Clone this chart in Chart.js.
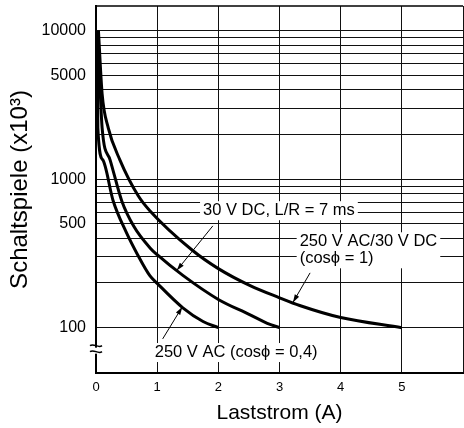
<!DOCTYPE html>
<html>
<head>
<meta charset="utf-8">
<script src="https://cdn.jsdelivr.net/npm/chart.js@4/dist/chart.umd.min.js"></script>
<style>
  html, body { margin: 0; padding: 0; background: #fff; }
  #wrap { width: 464px; height: 428px; }
</style>
</head>
<body>
<div id="wrap"><canvas id="chart"></canvas></div>
<script>
// Schaltspiele (x10^3) vs Laststrom (A)
const acInductiveX = [0.02, 0.03, 0.11, 0.28, 0.49, 0.68, 0.88, 1.0, 1.42, 1.75, 2.0];
const acInductiveY = [10000, 2222, 1352, 717, 443, 310, 224, 199, 136, 110, 100];

const dcInductiveX = [0.03, 0.1, 0.23, 0.42, 0.62, 0.88, 1.0, 1.42, 2.0, 2.52, 2.8, 3.0];
const dcInductiveY = [10000, 2222, 1352, 717, 480, 346, 310, 225, 155, 122, 107, 100];

const resistiveX = [0.04, 0.1, 0.2, 0.39, 0.69, 0.88, 1.58, 2.0, 2.52, 3.0, 3.33, 4.0, 5.0];
const resistiveY = [10000, 3767, 2222, 1352, 774, 614, 331, 250, 192, 159, 141, 117, 100];

const gridValues = [100, 200, 300, 400, 500, 600, 700, 800, 900,
                    1000, 2000, 3000, 4000, 5000, 6000, 7000, 8000, 9000, 10000];
const tickLabels = [100, 500, 1000, 5000, 10000];
const xTicks = [0, 1, 2, 3, 4, 5, 6];
const xTickLabels = ['0', '1', '2', '3', '4', '5', ''];

// labels with arrows, [x, y] in data units
const notes = [
  { lines: ['30 V DC, L/R = 7 ms'], at: [1.75, 614], from: [1.91, 485], to: [1.32, 243] },
  { lines: ['250 V AC/30 V DC', '(cos\u03D5 = 1)'], at: [3.33, 379], from: [3.50, 234], to: [3.22, 148] },
  { lines: ['250 V AC (cos\u03D5 = 0,4)'], at: [0.96, 68], from: [1.09, 84], to: [1.41, 138] }
];

const toPoints = (xs, ys) => xs.map((x, i) => ({ x: x, y: ys[i] }));

const curveStyle = {
  borderColor: '#000',
  borderWidth: 3,
  pointRadius: 0,
  fill: false,
  cubicInterpolationMode: 'monotone'
};

const annotatePlugin = {
  id: 'annotate',
  afterDraw(chart) {
    const ctx = chart.ctx;
    const xs = chart.scales.x;
    const ys = chart.scales.y;
    const area = chart.chartArea;

    // frame on top
    ctx.save();
    ctx.strokeStyle = '#000';
    ctx.lineWidth = 1.5;
    ctx.beginPath();
    ctx.moveTo(area.left, area.top);
    ctx.lineTo(area.right, area.top);
    ctx.stroke();

    // axis break mark
    const by = ys.getPixelForValue(70);
    const bx = area.left;
    ctx.fillStyle = '#fff';
    ctx.fillRect(bx - 3, by - 3, 6, 6);
    ctx.lineWidth = 1.5;
    ctx.beginPath();
    ctx.moveTo(bx - 6, by - 5);
    ctx.bezierCurveTo(bx - 2, by - 8, bx + 2, by - 2, bx + 6, by - 5);
    ctx.moveTo(bx - 6, by + 1);
    ctx.bezierCurveTo(bx - 2, by - 2, bx + 2, by + 4, bx + 6, by + 1);
    ctx.stroke();

    ctx.font = '16.5px "Liberation Sans", Arial, sans-serif';
    ctx.textBaseline = 'middle';
    ctx.textAlign = 'left';
    notes.forEach(n => {
      const px = xs.getPixelForValue(n.at[0]);
      const py = ys.getPixelForValue(n.at[1]);
      const lh = 17;
      const w = Math.max(...n.lines.map(l => ctx.measureText(l).width));
      ctx.fillStyle = '#fff';
      ctx.fillRect(px - 3, py - lh / 2 - 1, w + 6, lh * n.lines.length + 2);
      ctx.fillStyle = '#000';
      n.lines.forEach((l, i) => ctx.fillText(l, px, py + i * lh));

      // arrow
      const x1 = xs.getPixelForValue(n.from[0]);
      const y1 = ys.getPixelForValue(n.from[1]);
      const x2 = xs.getPixelForValue(n.to[0]);
      const y2 = ys.getPixelForValue(n.to[1]);
      ctx.strokeStyle = '#000';
      ctx.lineWidth = 1;
      ctx.beginPath();
      ctx.moveTo(x1, y1);
      ctx.lineTo(x2, y2);
      ctx.stroke();
      const a = Math.atan2(y2 - y1, x2 - x1);
      const len = 8, half = 2.5;
      ctx.beginPath();
      ctx.moveTo(x2, y2);
      ctx.lineTo(x2 - len * Math.cos(a) + half * Math.sin(a), y2 - len * Math.sin(a) - half * Math.cos(a));
      ctx.lineTo(x2 - len * Math.cos(a) - half * Math.sin(a), y2 - len * Math.sin(a) + half * Math.cos(a));
      ctx.closePath();
      ctx.fill();
    });
    ctx.restore();
  }
};

new Chart(document.getElementById('chart'), {
  type: 'line',
  data: {
    datasets: [
      Object.assign({ label: '250 V AC (cos\u03D5 = 0,4)', data: toPoints(acInductiveX, acInductiveY) }, curveStyle),
      Object.assign({ label: '30 V DC, L/R = 7 ms', data: toPoints(dcInductiveX, dcInductiveY) }, curveStyle),
      Object.assign({ label: '250 V AC/30 V DC (cos\u03D5 = 1)', data: toPoints(resistiveX, resistiveY) }, curveStyle)
    ]
  },
  options: {
    responsive: true,
    maintainAspectRatio: false,
    animation: false,
    layout: { padding: { top: 6, right: 1, left: 0, bottom: 0 } },
    plugins: { legend: { display: false }, tooltip: { enabled: false } },
    scales: {
      x: {
        type: 'linear',
        min: 0,
        max: 6,
        afterBuildTicks: s => { s.ticks = xTicks.map(v => ({ value: v })); },
        afterFit: s => { s.height = 55; s.paddingLeft = 0; s.paddingRight = 0; },
        grid: { color: '#111', lineWidth: 1, drawTicks: false },
        border: { color: '#000', width: 2 },
        ticks: {
          padding: 7,
          color: '#000',
          autoSkip: false,
          font: { family: '"Liberation Sans Narrow", "Liberation Sans", Arial', size: 13 },
          callback: (v, i) => xTickLabels[i]
        },
        title: {
          display: true,
          text: 'Laststrom (A)',
          color: '#000',
          font: { family: '"Liberation Sans", Arial, sans-serif', size: 21 },
          padding: { top: 0, bottom: 2 }
        }
      },
      y: {
        type: 'logarithmic',
        min: 49.5,
        max: 14700,
        bounds: 'data',
        afterBuildTicks: s => { s.ticks = gridValues.map(v => ({ value: v })); },
        afterFit: s => { s.width = 96; s.paddingTop = 0; s.paddingBottom = 0; },
        grid: { color: '#111', lineWidth: 1, drawTicks: false },
        border: { color: '#000', width: 2 },
        ticks: {
          padding: 10,
          color: '#000',
          autoSkip: false,
          font: { family: '"Liberation Sans", Arial, sans-serif', size: 16 },
          callback: v => tickLabels.includes(v) ? String(v) : ''
        },
        title: {
          display: true,
          text: 'Schaltspiele (x10\u00B3)',
          color: '#000',
          font: { family: '"Liberation Sans", Arial, sans-serif', size: 24 },
          padding: { top: 6, bottom: 0 }
        }
      }
    }
  },
  plugins: [annotatePlugin]
});
</script>
</body>
</html>
